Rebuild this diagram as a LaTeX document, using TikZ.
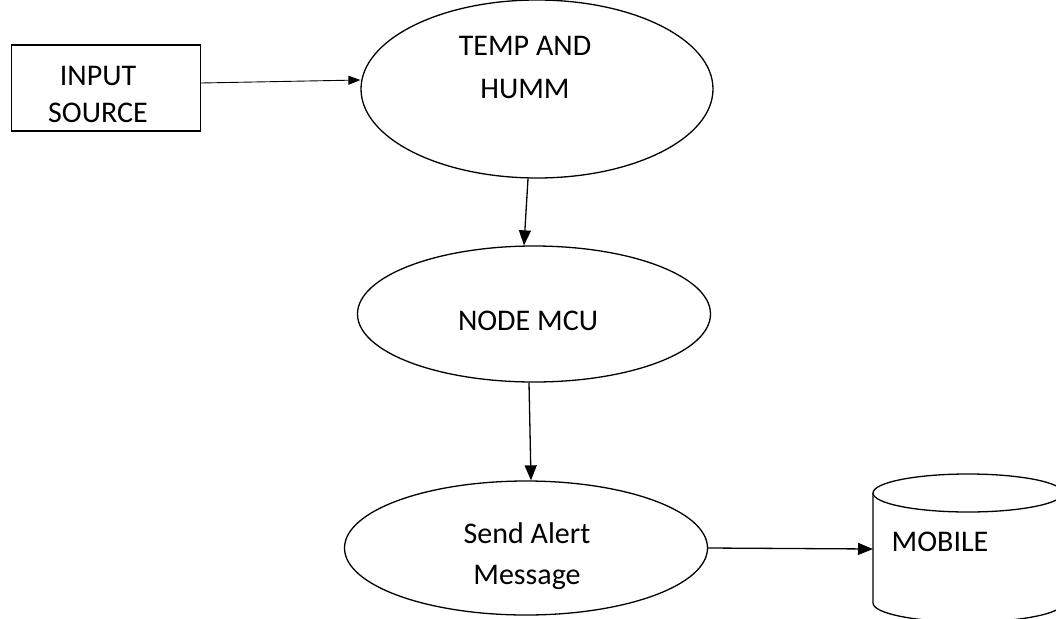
\documentclass[tikz,border=0pt]{standalone}
\usepackage{fontspec}
\setmainfont{Carlito}
\usetikzlibrary{shapes.geometric,arrows.meta,positioning}

\begin{document}
\begin{tikzpicture}[x=1pt,y=-1pt,
  blob/.style={ellipse,draw,line width=1.3pt,inner sep=0pt},
  txt/.style={font=\fontsize{30}{41}\selectfont,align=center,inner sep=0pt},
  flow/.style={-{Triangle[length=15pt,width=12pt]},line width=1.3pt}]
  \useasboundingbox (0,0) rectangle (1056,618);
  % shapes
  \node[draw,line width=1.1pt,minimum width=189pt,minimum height=86pt] (src) at (106,88) {};
  \node[blob,minimum width=352pt,minimum height=178pt] (temp) at (537,89) {};
  \node[blob,minimum width=353pt,minimum height=136pt] (mcu) at (534,314) {};
  \node[blob,minimum width=363pt,minimum height=134pt] (alert) at (526,548) {};
  % mobile drum, runs off the page
  \draw[line width=1.3pt] (968,493) ellipse [x radius=95, y radius=19];
  \draw[line width=1.3pt] (873,493) -- (873,603)
    arc[start angle=180, end angle=0, x radius=95, y radius=19] -- (1063,493);
  \coordinate (mobside) at (873,549);
  % texts
  \node[txt,font=\fontsize{30}{37}\selectfont] (srctxt) at (98,94) {INPUT\\SOURCE};
  \node[txt,font=\fontsize{30}{43}\selectfont] (temptxt) at (525,67) {TEMP AND\\HUMM};
  \node[txt] (mcutxt) at (528,321) {NODE MCU};
  \node[txt] (alerttxt) at (527,556) {Send Alert\\Message};
  \node[txt] (mobtxt) at (940,542) {MOBILE};
  % arrows
  \draw[-{Triangle[length=12pt,width=9pt]},line width=0.9pt]
    ([yshift=5pt]src.east) -- ([yshift=9pt]temp.west);
  \draw[flow] ([xshift=-9pt]temp.south) -- ([xshift=-10pt]mcu.north);
  \draw[flow] ([xshift=-5pt]mcu.south) -- ([xshift=5pt]alert.north);
  \draw[flow] (alert.east) -- (mobside);
\end{tikzpicture}
\end{document}
